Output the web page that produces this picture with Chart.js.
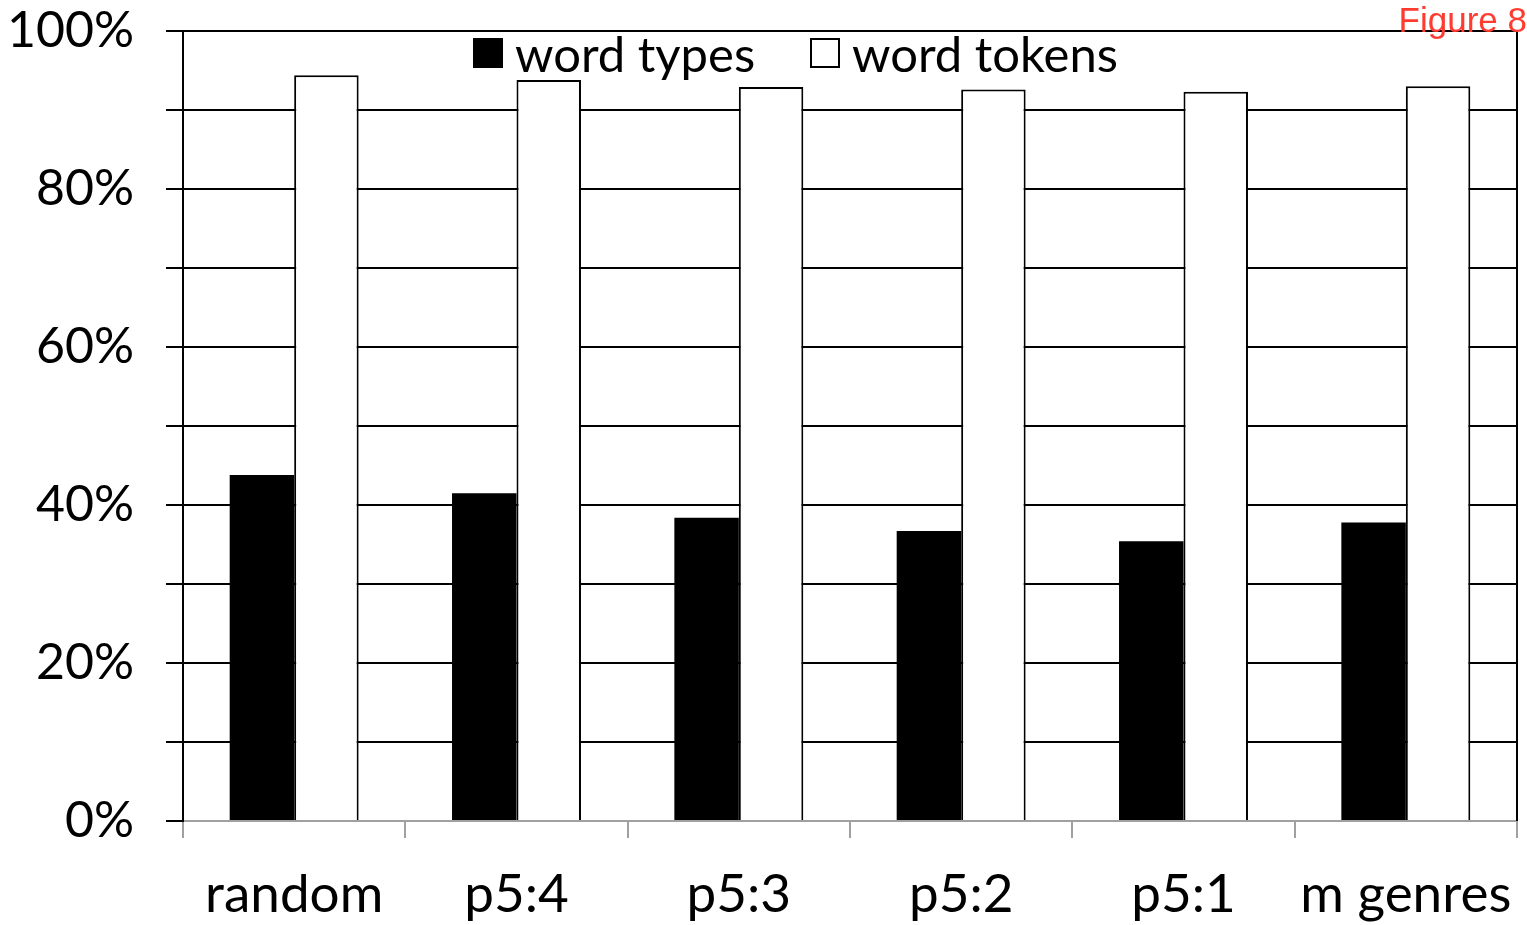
<!DOCTYPE html>
<html>
<head>
<meta charset="utf-8">
<script src="https://cdn.jsdelivr.net/npm/chart.js@4"></script>
<style>
  body { margin: 0; background: #fff; }
  #wrap { position: relative; width: 1527px; height: 925px; }
  #fig { position: absolute; right: 0px; top: 0px; font: 35px "Liberation Sans", Arial, sans-serif; color: #ff3b30; z-index: 2; }
</style>
</head>
<body>
<div id="wrap">
  <canvas id="chart" width="1527" height="925"></canvas>
  <div id="fig">Figure 8</div>
</div>
<script>
let categories = ['random', 'p5:4', 'p5:3', 'p5:2', 'p5:1', 'm genres']
let wordTypes = [43.8, 41.5, 38.4, 36.7, 35.4, 37.8]
let wordTokens = [94.4, 93.8, 92.9, 92.6, 92.3, 93.0]
let seriesLabels = ['word types', 'word tokens']

const FONT = 'Lato'

// legend drawn inside the plot, plus the right frame line
Chart.register({
  id: 'frameAndLegend',
  afterDraw: function (chart) {
    let ctx = chart.ctx
    let area = chart.chartArea
    ctx.save()
    ctx.beginPath()
    ctx.moveTo(area.right, area.top - 1)
    ctx.lineTo(area.right, area.bottom)
    ctx.lineWidth = 2
    ctx.strokeStyle = '#000'
    ctx.stroke()

    ctx.font = '49px ' + FONT
    ctx.textBaseline = 'alphabetic'
    ctx.fillStyle = '#000'
    let x = area.left + 290
    let y = area.top + 7
    chart.data.datasets.forEach((ds, i) => {
      if (i === 0) {
        ctx.fillRect(x, y, 30, 30)
      } else {
        ctx.fillStyle = '#fff'
        ctx.fillRect(x, y, 30, 30)
        ctx.strokeStyle = '#000'
        ctx.lineWidth = 2
        ctx.strokeRect(x + 1, y + 1, 28, 28)
      }
      ctx.fillStyle = '#000'
      ctx.fillText(ds.label, x + 42, y + 34)
      x = 810
    })
    ctx.restore()
  }
})

// keep the plot box where it is, no extra room for edge labels
function noPadding(scale) {
  scale.paddingTop = 0
  scale.paddingBottom = 0
  scale.paddingLeft = 0
  scale.paddingRight = 0
}

let config = {
  type: 'bar',
  data: {
    labels: categories,
    datasets: [
      {
        label: seriesLabels[0],
        data: wordTypes,
        backgroundColor: '#000',
        borderWidth: 0
      },
      {
        label: seriesLabels[1],
        data: wordTokens,
        backgroundColor: '#fff',
        borderColor: '#000',
        borderWidth: 2
      }
    ]
  },
  options: {
    responsive: false,
    animation: false,
    devicePixelRatio: 1,
    layout: {
      autoPadding: false,
      padding: { top: 31, right: 10, left: 0, bottom: 0 }
    },
    datasets: {
      bar: {
        categoryPercentage: 0.58,
        barPercentage: 1.0
      }
    },
    scales: {
      x: {
        z: 1,
        offset: true,
        grid: {
          offset: true,
          drawOnChartArea: false,
          drawTicks: true,
          tickLength: 17,
          color: '#a0a0a0',
          lineWidth: 2
        },
        border: { display: true, color: '#a0a0a0', width: 2 },
        ticks: {
          color: '#000',
          font: { family: FONT, size: 53 },
          padding: 25,
          maxRotation: 0
        },
        afterFit: function (scale) {
          scale.height = 104
          noPadding(scale)
        }
      },
      y: {
        min: 0,
        max: 100,
        grid: {
          color: '#000',
          lineWidth: 2,
          drawTicks: true,
          tickLength: 17
        },
        border: { display: true, color: '#000', width: 2 },
        ticks: {
          stepSize: 10,
          color: '#000',
          padding: 32,
          font: { family: FONT, size: 50 },
          callback: function (v) { return v % 20 === 0 ? v + '%' : '' }
        },
        afterFit: function (scale) {
          scale.width = 183
          noPadding(scale)
        }
      }
    },
    plugins: {
      legend: { display: false },
      tooltip: { enabled: false }
    }
  }
}

new Chart(document.getElementById('chart').getContext('2d'), config)
</script>
</body>
</html>
